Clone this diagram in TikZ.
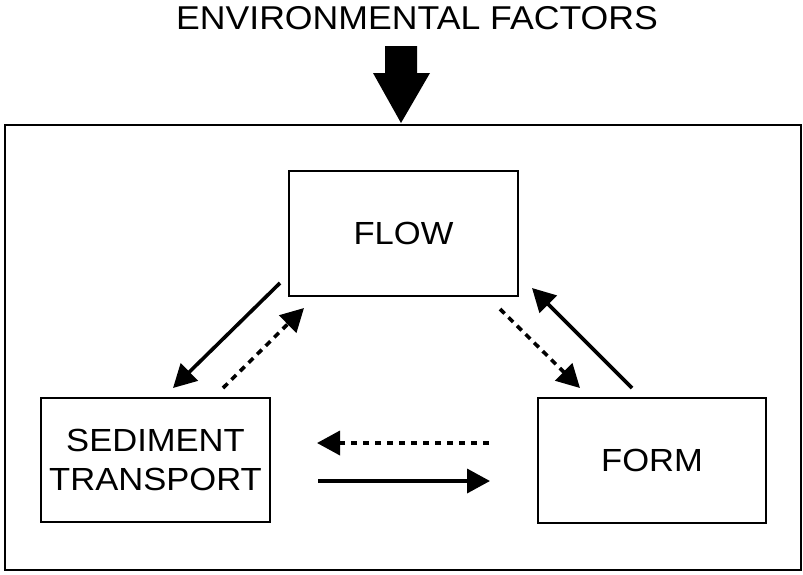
\documentclass[tikz,border=0pt]{standalone}
\usepackage{fontspec}
\setmainfont{Liberation Sans}[FakeStretch=1.08]
\usetikzlibrary{arrows.meta}
\tikzset{
  box/.style={draw, line width=2.2pt, inner sep=0pt, align=center, font=\fontsize{32}{39}\selectfont},
  conn/.style={line width=3.6pt, -{Triangle[length=23pt,width=24pt]}},
  dconn/.style={conn, dash pattern=on 6.5pt off 5.5pt},
}
\begin{document}
\begin{tikzpicture}[x=1pt,y=-1pt]
\useasboundingbox (0,0) rectangle (803,574);
\node[font=\fontsize{33}{40}\selectfont, anchor=center] (env) at (417,18) {ENVIRONMENTAL FACTORS};
\draw[line width=2.8pt] (5,125) rectangle (801,570);
\coordinate (outertop) at (401,123);
\fill (385,46) -- (417,46) -- (417,73) -- (430,73) -- (outertop) -- (373,73) -- (385,73) -- cycle;
\node[box, minimum width=229pt, minimum height=125pt] (flow) at (403.5,233.5) {FLOW};
\node[box, minimum width=229pt, minimum height=124pt] (sed) at (155.5,460) {SEDIMENT\\TRANSPORT};
\node[box, minimum width=228pt, minimum height=125pt] (form) at (652,460.5) {FORM};
% connectors
\coordinate (a1s) at (280,283); \coordinate (a1e) at (173,388);
\coordinate (a2s) at (223,388); \coordinate (a2e) at (304,308);
\coordinate (a3s) at (500,309); \coordinate (a3e) at (580,388);
\coordinate (a4s) at (632,388); \coordinate (a4e) at (532,288);
\coordinate (a5s) at (489,443); \coordinate (a5e) at (317,443);
\coordinate (a6s) at (318,481); \coordinate (a6e) at (490,481);
\draw[conn] (a1s) -- (a1e);
\draw[dconn] (a2s) -- (a2e);
\draw[dconn] (a3s) -- (a3e);
\draw[conn] (a4s) -- (a4e);
\draw[dconn] (a5s) -- (a5e);
\draw[conn] (a6s) -- (a6e);
\end{tikzpicture}
\end{document}
